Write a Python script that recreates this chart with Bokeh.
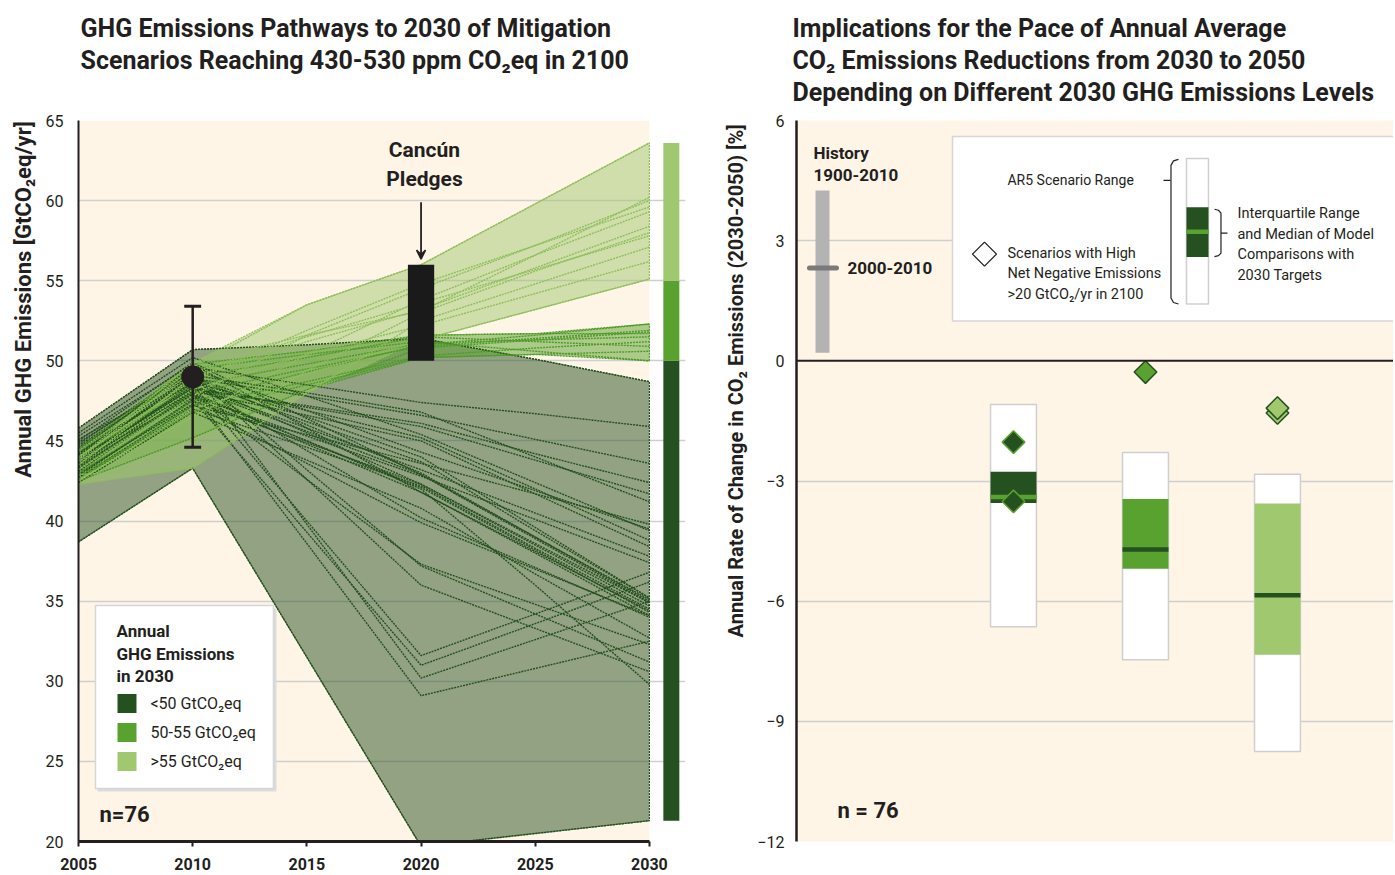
import numpy as np
from bokeh.plotting import figure
from bokeh.models import Range1d, Title, FixedTicker, Arrow, VeeHead, Span
from bokeh.layouts import row
from bokeh.embed import file_html
from bokeh.resources import INLINE
from bokeh.core.properties import value

FONT = "Roboto"
INK = "#231F20"
CREAM = "#FEF5E7"
DARK = "#25501F"
MED = "#59A22F"
LIGHT = "#A0C86F"
GRID = "#CFCFCF"

# ---------------- data: left panel ----------------
years = [2005, 2010, 2015, 2020, 2025, 2030]

dark_paths = [
    [45.8, 50.7, 51.0, 51.4, 50.1, 48.7],
    [38.7, 43.3, 31.5, 19.7, 20.5, 21.3],
    [44.8, 49.6, 48.5, 47.4, 46.7, 45.9],
    [44.2, 48.9, 47.8, 46.6, 45.1, 43.6],
    [43.5, 48.2, 47.2, 46.1, 44.2, 42.4],
    [45.1, 49.1, 48.0, 46.8, 44.0, 41.2],
    [44.5, 48.6, 46.9, 45.2, 42.0, 38.8],
    [43.9, 48.1, 46.6, 45.0, 41.7, 38.4],
    [44.0, 48.4, 45.8, 43.2, 40.5, 37.8],
    [43.2, 47.8, 45.3, 42.8, 40.1, 37.4],
    [44.6, 49.0, 46.0, 43.0, 39.0, 35.0],
    [43.7, 48.3, 45.6, 42.9, 38.9, 34.9],
    [42.9, 47.5, 44.9, 42.3, 38.5, 34.7],
    [44.3, 48.7, 45.5, 42.3, 38.6, 34.9],
    [43.4, 47.9, 45.0, 42.1, 38.2, 34.3],
    [42.6, 47.0, 44.6, 42.2, 38.3, 34.5],
    [45.3, 49.8, 45.8, 41.8, 38.1, 34.4],
    [44.1, 48.8, 46.2, 43.7, 39.4, 35.2],
    [43.0, 47.3, 43.6, 39.9, 37.0, 34.1],
    [44.9, 49.3, 43.2, 37.2, 34.2, 31.2],
    [43.6, 48.5, 40.0, 31.6, 34.2, 36.8],
    [42.8, 47.6, 39.3, 31.0, 33.6, 36.2],
    [44.4, 49.4, 39.8, 30.2, 32.6, 35.0],
    [43.1, 48.0, 38.6, 29.1, 30.8, 32.5],
    [44.7, 49.2, 42.6, 36.0, 33.3, 30.6],
    [43.3, 48.0, 42.6, 37.3, 34.8, 32.3],
    [42.4, 46.8, 43.8, 40.8, 36.7, 32.7],
    [45.5, 50.2, 47.8, 45.4, 42.4, 39.4],
    [44.0, 48.0, 45.0, 42.0, 36.0, 29.8],
    [43.8, 47.7, 44.8, 41.8, 38.0, 34.1],
    [44.5, 49.5, 46.9, 44.3, 41.9, 39.5],
    [42.7, 47.2, 45.4, 43.6, 41.7, 39.8],
    [45.0, 49.9, 46.4, 42.9, 39.0, 35.1],
    [43.9, 48.3, 47.1, 45.9, 43.8, 41.7],
    [44.2, 49.0, 46.5, 44.0, 39.6, 35.2],
    [43.5, 48.6, 44.4, 40.2, 37.1, 34.0],
]

medium_paths = [
    [43.0, 47.5, 49.3, 51.0, 51.6, 52.3],
    [42.5, 45.2, 48.2, 50.8, 51.3, 51.8],
    [44.0, 48.5, 49.8, 51.1, 51.3, 51.5],
    [43.5, 49.0, 50.2, 51.5, 51.2, 50.9],
    [42.8, 46.8, 48.5, 50.2, 50.4, 50.6],
    [44.3, 49.5, 50.4, 51.2, 50.6, 50.0],
    [43.2, 48.0, 49.5, 50.9, 51.4, 51.9],
    [42.6, 47.2, 48.7, 50.3, 50.8, 51.2],
    [44.5, 49.8, 50.6, 51.6, 51.7, 51.7],
]

light_paths = [
    [43.8, 49.6, 53.5, 56.0, 59.8, 63.6],
    [43.2, 47.8, 51.6, 54.5, 57.2, 60.0],
    [44.0, 48.8, 51.9, 54.8, 57.2, 59.6],
    [42.6, 46.5, 50.4, 53.8, 56.6, 59.3],
    [43.5, 49.0, 51.2, 53.2, 55.8, 58.4],
    [42.3, 44.8, 49.4, 53.0, 55.6, 58.0],
    [44.4, 49.3, 51.5, 53.6, 55.7, 57.8],
    [42.9, 43.3, 48.0, 52.5, 54.8, 57.1],
    [43.7, 48.2, 50.4, 52.2, 54.2, 56.2],
    [42.5, 47.0, 49.2, 51.3, 53.2, 55.1],
    [43.9, 49.9, 51.6, 53.1, 56.6, 60.2],
]

hist_year, hist_value, hist_low, hist_high = 2010, 49.0, 44.6, 53.4
pledge_year, pledge_low, pledge_high = 2020, 50.0, 56.0
class_limits = [50, 55]
legend_labels = ["<50 GtCO₂eq", "50-55 GtCO₂eq", ">55 GtCO₂eq"]
y_ticks_left = [20, 25, 30, 35, 40, 45, 50, 55, 60, 65]
x_ticks_left = [2005, 2010, 2015, 2020, 2025, 2030]

# ---------------- data: right panel ----------------
box_pos = [1, 2, 3]
range_low = [-6.64, -7.46, -9.75]
range_high = [-1.09, -2.29, -2.83]
iqr_low = [-3.55, -5.19, -7.34]
iqr_high = [-2.77, -3.45, -3.56]
medians = [-3.40, -4.71, -5.85]
neg_pos = [1, 1, 2, 3, 3]
neg_values = [-2.03, -3.51, -0.28, -1.30, -1.18]
history_low, history_high, history_recent = 0.2, 4.25, 2.32
y_ticks_right = [-12, -9, -6, -3, 0, 3, 6]

# ---------------- layout constants ----------------
H = 873
WL1, W1, WL2, W2 = 40, 657, 56, 640
TITLE_PX = "25px"


def add_title_block(p, lines, offset, bottom_gap, top_gap=8):
    # stacked titles: closest to the frame first
    p.add_layout(Title(text=" ", text_font_size="1px", standoff=bottom_gap), "above")
    for line in reversed(lines):
        p.add_layout(Title(text=line, align="left", offset=offset, standoff=1,
                           text_font=FONT, text_font_size=TITLE_PX, text_font_style="bold",
                           text_color=INK), "above")
    p.add_layout(Title(text=" ", text_font_size="1px", standoff=top_gap), "above")


def axis_title_strip(width, y_range, y_center, x_frac, text, size):
    # a narrow figure that carries the rotated axis title
    s = figure(width=width, height=H, x_range=Range1d(0, 1), y_range=y_range,
               output_backend="svg", toolbar_location=None, x_axis_location=None, y_axis_location=None,
               min_border_left=0, min_border_right=0, min_border_top=0, min_border_bottom=0,
               background_fill_color="white", border_fill_color="white", outline_line_color=None)
    s.xgrid.visible = False
    s.ygrid.visible = False
    s.grid.visible = False
    s.text(x=[x_frac], y=[y_center], text=[text], angle=np.pi / 2, text_align="center",
           text_baseline="middle", text_font=value(FONT), text_font_size=size,
           text_font_style="bold", text_color=INK)
    return s


# ================= LEFT FIGURE =================
yr1 = Range1d(20, 65)
p1 = figure(width=W1, height=H, x_range=Range1d(2005, 2031.58), y_range=yr1,
            output_backend="svg", toolbar_location=None,
            min_border_left=38, min_border_right=12, min_border_top=0, min_border_bottom=32,
            background_fill_color="white", border_fill_color="white", outline_line_color=None)

p1.quad(left=x_ticks_left[0], right=x_ticks_left[-1], bottom=y_ticks_left[0], top=y_ticks_left[-1],
        fill_color=CREAM, line_color=None, level="image")

p1.xgrid.visible = False
p1.ygrid.ticker = FixedTicker(ticks=y_ticks_left[1:])
p1.ygrid.bounds = (x_ticks_left[0], x_ticks_left[-1])
p1.ygrid.grid_line_color = GRID
p1.ygrid.grid_line_width = 1.5

xa = p1.xaxis[0]
xa.ticker = FixedTicker(ticks=x_ticks_left)
xa.bounds = (x_ticks_left[0], x_ticks_left[-1])
xa.axis_line_width = 3
xa.axis_line_color = INK
xa.major_tick_out = 5
xa.major_tick_in = 0
xa.major_tick_line_width = 2
xa.major_tick_line_color = INK
xa.minor_tick_line_color = None
xa.major_label_text_font = FONT
xa.major_label_text_font_style = "bold"
xa.major_label_text_font_size = "16px"
xa.major_label_text_color = INK
xa.major_label_standoff = 11

ya = p1.yaxis[0]
ya.ticker = FixedTicker(ticks=y_ticks_left)
ya.axis_line_width = 2
ya.axis_line_color = INK
ya.major_tick_out = 0
ya.major_tick_in = 0
ya.minor_tick_line_color = None
ya.major_label_text_font = FONT
ya.major_label_text_font_size = "16px"
ya.major_label_text_color = INK
ya.major_label_standoff = 15


# layout positions in pixels (of the page) converted into data units
def lx(px):
    return 2005 + (px - 79) / 22.84


def ly(py):
    return 65 - (py - 121) / 16.02


lab1 = axis_title_strip(WL1, yr1, ly(300), 23 / WL1, "Annual GHG Emissions [GtCO₂eq/yr]", "22px")


def envelope(paths):
    arr = np.array(paths)
    return list(years) + list(years[::-1]), list(arr.max(axis=0)) + list(arr.min(axis=0)[::-1])


groups = [(dark_paths, DARK, "#25501F"), (medium_paths, MED, "#4E9A28"), (light_paths, LIGHT, "#8FBF5C")]
for paths, fill, line in groups:
    ex, ey = envelope(paths)
    p1.patch(ex, ey, fill_color=fill, fill_alpha=0.5, line_color=line, line_width=1.2, line_dash="2 1")
for paths, fill, line in groups:
    p1.multi_line([years] * len(paths), paths, line_color=line, line_width=1.4, line_dash="2 1")

# colour bar of 2030 classes
all2030 = [pth[-1] for pth in dark_paths + medium_paths + light_paths]
cb_bottom = [min(all2030), class_limits[0], class_limits[1]]
cb_top = [class_limits[0], class_limits[1], max(all2030)]
p1.quad(left=2030.61, right=2031.31, bottom=cb_bottom, top=cb_top,
        fill_color=[DARK, MED, LIGHT], line_color=None)

# Cancun pledges
p1.vbar(x=[pledge_year], width=1.15, bottom=[pledge_low], top=[pledge_high], fill_color="#1A1A1A", line_color=None)
p1.add_layout(Arrow(end=VeeHead(size=9, line_color=INK, fill_color=INK, line_width=1.5),
                    x_start=pledge_year, y_start=59.9, x_end=pledge_year, y_end=pledge_high + 0.35,
                    line_color=INK, line_width=1.8))
p1.text(x=[pledge_year + 0.15, pledge_year + 0.15], y=[63.19, 61.32], text=["Cancún", "Pledges"],
        text_font=value(FONT), text_font_size="21px", text_font_style="bold", text_color=INK,
        text_align="center", text_baseline="middle")

# 2010 historical estimate with uncertainty
p1.segment(x0=[hist_year], x1=[hist_year], y0=[hist_low], y1=[hist_high], line_color=INK, line_width=2.5)
p1.segment(x0=[hist_year - 0.37, hist_year - 0.37], x1=[hist_year + 0.37, hist_year + 0.37],
           y0=[hist_low, hist_high], y1=[hist_low, hist_high], line_color=INK, line_width=3)
p1.scatter(x=[hist_year], y=[hist_value], size=22, fill_color=INK, line_color=INK)

# legend
p1.quad(left=lx(98), right=lx(277), top=ly(609), bottom=ly(792), fill_color="#DCDCDC", line_color=None)
p1.quad(left=lx(96), right=lx(274), top=ly(606), bottom=ly(789), fill_color="white",
        line_color="#D6D6D6", line_width=1.5)
p1.text(x=[lx(117)] * 3, y=[ly(631), ly(654), ly(676)], text=["Annual", "GHG Emissions", "in 2030"],
        text_font=value(FONT), text_font_size="17px", text_font_style="bold", text_color=INK,
        text_baseline="middle")
sq_y = [ly(704), ly(733), ly(762)]
half = 9.5 / 16.02
p1.quad(left=lx(118), right=lx(137), bottom=[v - half for v in sq_y], top=[v + half for v in sq_y],
        fill_color=[DARK, MED, LIGHT], line_color=None)
p1.text(x=[lx(151)] * 3, y=sq_y, text=legend_labels, text_font=value(FONT), text_font_size="16px",
        text_color=INK, text_baseline="middle")
p1.text(x=[lx(100)], y=[ly(815)], text=["n=76"], text_font=value(FONT), text_font_size="22px",
        text_font_style="bold", text_color=INK, text_baseline="middle")

add_title_block(p1, ["GHG Emissions Pathways to 2030 of Mitigation",
                     "Scenarios Reaching 430-530 ppm CO₂eq in 2100"], offset=2, bottom_gap=42)

# ================= RIGHT FIGURE =================
yr2 = Range1d(-12, 6)
p2 = figure(width=W2, height=H, x_range=Range1d(-0.644, 3.879), y_range=yr2,
            output_backend="svg", toolbar_location=None, x_axis_location=None,
            min_border_left=43, min_border_right=0, min_border_top=0, min_border_bottom=32,
            background_fill_color=CREAM, border_fill_color="white", outline_line_color=None)

p2.xgrid.visible = False
p2.ygrid.ticker = FixedTicker(ticks=[t for t in y_ticks_right if t != 0])
p2.ygrid.grid_line_color = GRID
p2.ygrid.grid_line_width = 1.5

ra = p2.yaxis[0]
ra.ticker = FixedTicker(ticks=y_ticks_right)
ra.major_label_overrides = {t: (str(t).replace("-", "−")) for t in y_ticks_right}
ra.axis_line_width = 2.5
ra.axis_line_color = INK
ra.major_tick_out = 0
ra.major_tick_in = 0
ra.minor_tick_line_color = None
ra.major_label_text_font = FONT
ra.major_label_text_font_size = "16px"
ra.major_label_text_color = INK
ra.major_label_standoff = 12

p2.add_layout(Span(location=0, dimension="width", line_color=INK, line_width=2))


def rx(px):
    return -0.644 + (px - 797) / 132.0


def ry(py):
    return 6 - (py - 125) / 40.17


lab2 = axis_title_strip(WL2, yr2, ry(386), 38 / WL2,
                        "Annual Rate of Change in CO₂ Emissions (2030-2050) [%]", "20px")

# history
hist_x = rx(823)
p2.vbar(x=[hist_x], width=0.106, bottom=[history_low], top=[history_high], fill_color="#B3B3B3", line_color=None)
p2.segment(x0=[rx(810)], x1=[rx(837)], y0=[history_recent], y1=[history_recent],
           line_color="#7A7A7A", line_width=5, line_cap="round")
p2.text(x=[rx(814)] * 2, y=[ry(158), ry(180)], text=["History", "1900-2010"], text_font=value(FONT),
        text_font_size="17px", text_font_style="bold", text_color=INK, text_baseline="middle")
p2.text(x=[rx(848)], y=[history_recent], text=["2000-2010"], text_font=value(FONT),
        text_font_size="17px", text_font_style="bold", text_color=INK, text_baseline="middle")

# boxes
bw = 0.348
p2.vbar(x=box_pos, width=bw, bottom=range_low, top=range_high, fill_color="white",
        line_color=GRID, line_width=1.5)
p2.vbar(x=box_pos, width=bw, bottom=iqr_low, top=iqr_high, fill_color=[DARK, MED, LIGHT], line_color=None)
p2.segment(x0=[b - bw / 2 for b in box_pos], x1=[b + bw / 2 for b in box_pos], y0=medians, y1=medians,
           line_color=[MED, DARK, DARK], line_width=4.5)
p2.scatter(x=neg_pos, y=neg_values, marker="square", angle=np.pi / 4, size=16,
           fill_color=[DARK, DARK, MED, LIGHT, LIGHT], line_color=[MED, MED, DARK, DARK, DARK], line_width=1.5)

# inset legend
p2.quad(left=rx(953), right=rx(1420), top=ry(141), bottom=ry(326), fill_color="white",
        line_color="#D6D6D6", line_width=1.5)
p2.text(x=[rx(1008)], y=[ry(185)], text=["AR5 Scenario Range"], text_font=value(FONT),
        text_font_size="14px", text_color=INK, text_baseline="middle")
p2.segment(x0=[rx(1164)], x1=[rx(1171)], y0=[ry(185)], y1=[ry(185)], line_color=INK, line_width=1.2)
p2.line(x=[rx(1179), rx(1174), rx(1171.5), rx(1171.5), rx(1174), rx(1179)],
        y=[ry(164), ry(165.5), ry(170), ry(303), ry(307.5), ry(309)], line_color=INK, line_width=1.2)
p2.quad(left=rx(1187), right=rx(1209), top=ry(163), bottom=ry(309), fill_color="white",
        line_color=GRID, line_width=1.5)
p2.quad(left=rx(1187), right=rx(1209), top=ry(212), bottom=ry(262), fill_color=DARK, line_color=None)
p2.segment(x0=[rx(1187)], x1=[rx(1209)], y0=[ry(236.5)], y1=[ry(236.5)], line_color=MED, line_width=4.5)
p2.line(x=[rx(1215), rx(1219), rx(1221.5), rx(1221.5), rx(1219), rx(1215)],
        y=[ry(214), ry(215), ry(218), ry(258), ry(260.5), ry(261.5)], line_color=INK, line_width=1.2)
p2.segment(x0=[rx(1221.5)], x1=[rx(1228)], y0=[ry(238)], y1=[ry(238)], line_color=INK, line_width=1.2)
p2.text(x=[rx(1238)] * 4, y=[ry(218), ry(239), ry(259), ry(280)],
        text=["Interquartile Range", "and Median of Model", "Comparisons with", "2030 Targets"],
        text_font=value(FONT), text_font_size="14.5px", text_color=INK, text_baseline="middle")
p2.scatter(x=[rx(985)], y=[ry(259)], marker="square", angle=np.pi / 4, size=17, fill_color="white",
           line_color=INK, line_width=1.3)
p2.text(x=[rx(1008)] * 3, y=[ry(258), ry(278), ry(299)],
        text=["Scenarios with High", "Net Negative Emissions", ">20 GtCO₂/yr in 2100"],
        text_font=value(FONT), text_font_size="14.5px", text_color=INK, text_baseline="middle")

p2.text(x=[rx(838)], y=[ry(817)], text=["n = 76"], text_font=value(FONT), text_font_size="22px",
        text_font_style="bold", text_color=INK, text_baseline="middle")

add_title_block(p2, ["Implications for the Pace of Annual Average",
                     "CO₂ Emissions Reductions from 2030 to 2050",
                     "Depending on Different 2030 GHG Emissions Levels"], offset=-4, bottom_gap=10)

layout = row(lab1, p1, lab2, p2)
open("out.html", "w").write(file_html(layout, INLINE))
